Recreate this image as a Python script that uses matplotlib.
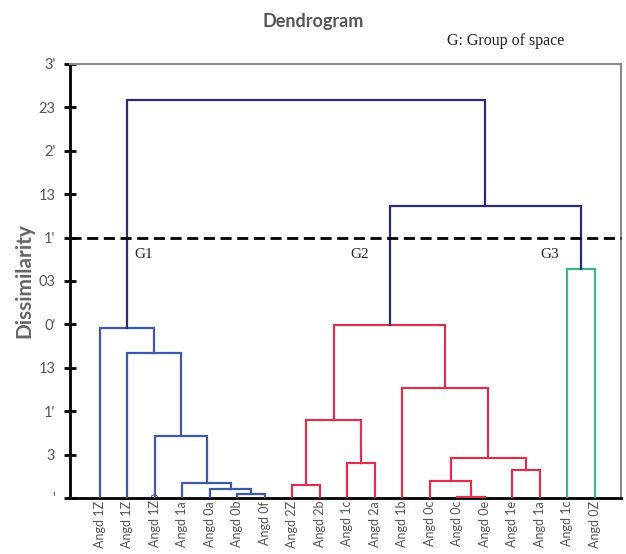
import matplotlib
matplotlib.use("Agg")
import matplotlib.pyplot as plt
import matplotlib.transforms as mtransforms

# leaf labels, left to right
leaf_labels = ["Angd 1Z", "Angd 1Z", "Angd 1Zb", "Angd 1a", "Angd 0a", "Angd 0b", "Angd 0f",
               "Angd 2Z", "Angd 2b", "Angd 1c", "Angd 2a", "Angd 1b", "Angd 0c", "Angd 0c",
               "Angd 0e", "Angd 1e", "Angd 1a", "Angd 1c", "Angd 0Z"]

# merges (scipy style ids: leaves 0..18, new clusters 19..)
merge_left = [5, 4, 3, 2, 1, 0, 7, 9, 25, 13, 12, 15, 29, 11, 27, 17, 33, 24]
merge_right = [6, 19, 20, 21, 22, 23, 8, 10, 26, 14, 28, 16, 30, 31, 32, 18, 34, 35]
merge_height = [0.085, 0.21, 0.34, 1.43, 3.35, 3.92, 0.29, 0.81, 1.80, 0.03, 0.39, 0.64,
                0.91, 2.53, 3.99, 5.27, 6.73, 9.17]
merge_group = ["G1"] * 6 + ["G2"] * 9 + ["G3", "top", "top"]

ytick_labels = ["'", "3", "1'", "13", "0'", "03", "1'", "13", "2'", "23", "3'"]
cut_level = 6.0
group_names = ["G1", "G2", "G3"]
group_x = [2.24, 10.1, 17.0]

colors = {"G1": "#3f5aa5", "G2": "#d8304f", "G3": "#3db58a", "top": "#2d2b70"}

fig = plt.figure(figsize=(6.26, 5.54), dpi=100)
ax = fig.add_axes([0.1118, 0.1011, 0.8802, 0.7834])

n = len(leaf_labels)
xpos = {i: i + 1 for i in range(n)}
ypos = {i: 0.0 for i in range(n)}
for k, (a, b, h) in enumerate(zip(merge_left, merge_right, merge_height)):
    cid = n + k
    xa, xb = xpos[a], xpos[b]
    ax.plot([xa, xa, xb, xb], [ypos[a], h, h, ypos[b]],
            color=colors[merge_group[k]], lw=1.6, solid_joinstyle="miter", zorder=3)
    xpos[cid] = (xa + xb) / 2
    ypos[cid] = h

ax.axhline(cut_level, color="black", lw=2, dashes=(4, 2), zorder=4, clip_on=False)

for name, gx in zip(group_names, group_x):
    ax.text(gx, cut_level - 0.4, name, family="Liberation Serif", fontsize=11,
            color="#222222", va="center", ha="left")

ax.set_xlim(-0.09, 19.95)
ax.set_ylim(0, 10)
ax.set_yticks(range(11))
ax.set_yticklabels(ytick_labels, family="Lato", fontsize=10.5, color="#555555")
ax.set_xticks(range(1, n + 1))
ax.set_xticklabels(leaf_labels, rotation=90, family="Lato", fontsize=9, color="#555555")
ax.tick_params(axis="x", length=0, pad=2)
ax.tick_params(axis="y", direction="inout", length=9, width=2, color="black", pad=6)

# the longer label sits a bit higher, over the axis line, like the original
lab = ax.get_xticklabels()[2]
lab.set_transform(lab.get_transform() + mtransforms.ScaledTranslation(0, 0.08, fig.dpi_scale_trans))
lab.set_zorder(5)

for side in ["left", "bottom"]:
    ax.spines[side].set_linewidth(2)
    ax.spines[side].set_color("black")
for side in ["top", "right"]:
    ax.spines[side].set_linewidth(1.5)
    ax.spines[side].set_color("#8a8a8a")

ax.set_ylabel("Dissimilarity", family="Lato", fontweight="bold", fontsize=15,
              color="#666666", labelpad=3)

fig.text(0.50, 0.962, "Dendrogram", family="Lato", fontweight="bold", fontsize=13,
         color="#555555", ha="center", va="center")
fig.text(0.714, 0.926, "G: Group of space", family="Liberation Serif", fontsize=11.5,
         color="#222222", ha="left", va="center")

fig.savefig("out.png", dpi=100)
